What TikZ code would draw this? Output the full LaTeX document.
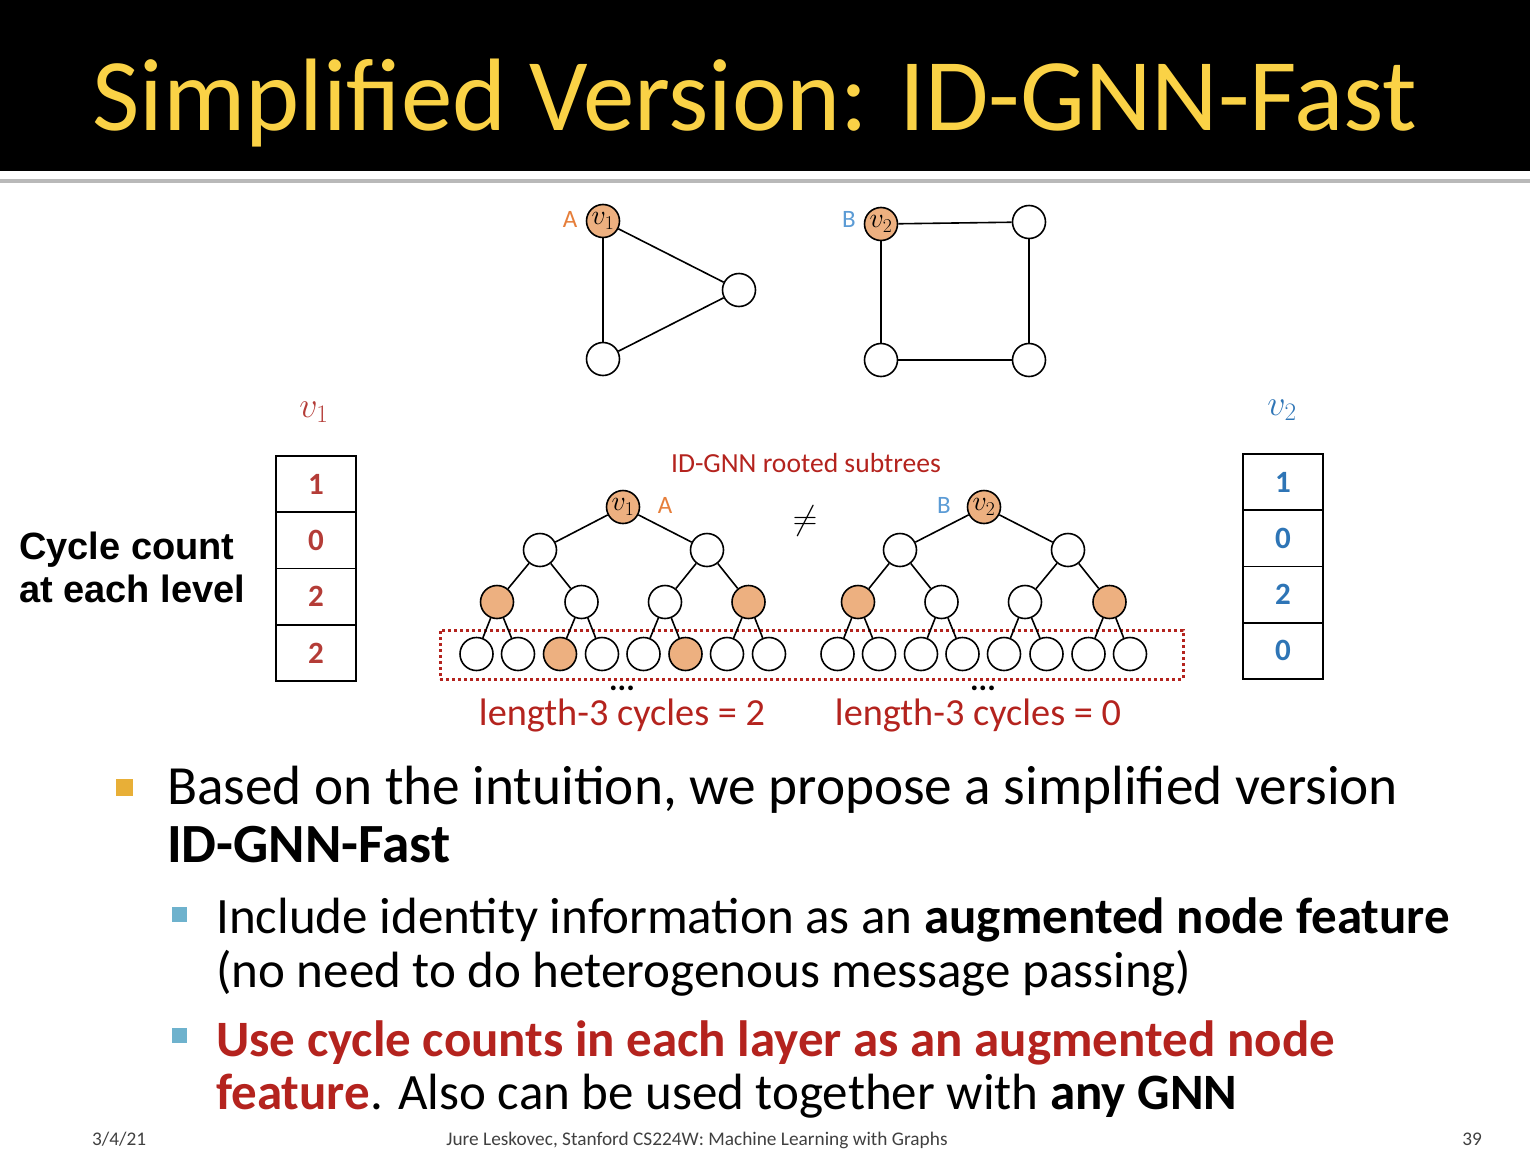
\RequirePackage{fix-cm}
\documentclass[tikz,border=0pt]{standalone}
\usepackage{fontspec}
\setmainfont{Carlito}
\newfontfamily\arialfont{Liberation Sans}
\definecolor{peach}{RGB}{237,176,128}
\definecolor{labelorange}{RGB}{230,126,58}
\definecolor{labelblue}{RGB}{91,155,213}
\definecolor{darkred}{RGB}{180,35,30}
\definecolor{tabred}{RGB}{180,60,55}
\definecolor{tabblue}{RGB}{46,117,182}
\definecolor{titleyellow}{RGB}{250,210,70}
\definecolor{bulletone}{RGB}{232,175,55}
\definecolor{bullettwo}{RGB}{110,178,205}
\begin{document}
\begin{tikzpicture}[x=1pt,y=-1pt,
  gnode/.style={circle,draw,line width=1.6pt,minimum size=33pt,inner sep=0pt,fill=white,font=\fontsize{28}{28}\selectfont},
  onode/.style={gnode,fill=peach},
  edge/.style={line width=1.6pt},
  cell/.style={draw,line width=1.6pt,minimum width=80pt,minimum height=56.25pt,inner sep=0pt,font=\fontsize{31}{32}\selectfont\bfseries},
  glabel/.style={font=\fontsize{25}{25}\selectfont},
  bigtxt/.style={anchor=base west,font=\fontsize{55.3}{60}\selectfont},
  subtxt/.style={anchor=base west,font=\fontsize{51}{56}\selectfont},
  foot/.style={anchor=base,font=\fontsize{19.3}{20}\selectfont,text=black!75},
]
\useasboundingbox (0,0) rectangle (1530,1148);
% title band
\fill[black] (0,0) rectangle (1530,171);
\fill[gray!55] (0,179) rectangle (1530,183);
\node[anchor=base west,text=titleyellow,font=\fontsize{103}{103}\selectfont,inner sep=0pt] (title) at (92,130) {Simplified Version: ID-GNN-Fast};

% graph A (triangle)
\node[onode] (ga1) at (603,221) {$v_1$};
\node[gnode] (ga2) at (739,290) {};
\node[gnode] (ga3) at (603,359) {};
\draw[edge] (ga1) -- (ga2);
\draw[edge] (ga2) -- (ga3);
\draw[edge] (ga3) -- (ga1);
\node[glabel,text=labelorange] (gla) at (570,219) {A};

% graph B (square)
\node[onode] (gb1) at (881,224) {$v_2$};
\node[gnode] (gb2) at (1029,222) {};
\node[gnode] (gb3) at (881,360) {};
\node[gnode] (gb4) at (1029,360) {};
\draw[edge] (gb1) -- (gb2);
\draw[edge] (gb2) -- (gb4);
\draw[edge] (gb4) -- (gb3);
\draw[edge] (gb3) -- (gb1);
\node[glabel,text=labelblue] (glb) at (849,219) {B};

% big labels
\node[text=tabred,font=\fontsize{36}{36}\selectfont] (lv1) at (314,412) {$v_1$};
\node[text=tabblue,font=\fontsize{36}{36}\selectfont] (lv2) at (1282,410) {$v_2$};

% tables
\node[cell,text=tabred] (ta1) at (316,484.1) {1};
\node[cell,text=tabred] (ta2) at (316,540.4) {0};
\node[cell,text=tabred] (ta3) at (316,596.6) {2};
\node[cell,text=tabred] (ta4) at (316,652.9) {2};
\node[cell,text=tabblue] (tb1) at (1283,482.1) {1};
\node[cell,text=tabblue] (tb2) at (1283,538.4) {0};
\node[cell,text=tabblue] (tb3) at (1283,594.6) {2};
\node[cell,text=tabblue] (tb4) at (1283,650.9) {0};

% cycle count label
\node[anchor=base west,font=\arialfont\bfseries\fontsize{38}{40}\selectfont,inner sep=0pt] (cc1) at (19,559) {Cycle count};
\node[anchor=base west,font=\arialfont\bfseries\fontsize{38}{40}\selectfont,inner sep=0pt] (cc2) at (19,602) {at each level};

% subtree heading
\node[anchor=base,text=darkred,font=\fontsize{27.6}{28}\selectfont,inner sep=0pt] (head) at (806,472) {ID-GNN rooted subtrees};
\node[font=\fontsize{34}{34}\selectfont] (neq) at (805,521) {$\neq$};

% dotted box
\node[draw=darkred,line width=3pt,dash pattern=on 3pt off 3pt,minimum width=743pt,minimum height=49pt,inner sep=0pt] (box) at (811.5,654.5) {};

% tree A
\node[onode] (ar) at (623,507) {$v_1$};
\node[glabel,text=labelorange] (tla) at (665,505) {A};
\node[gnode] (a11) at (540,550) {};
\node[gnode] (a12) at (707,550) {};
\node[onode] (a21) at (497,602) {};
\node[gnode] (a22) at (581.5,602) {};
\node[gnode] (a23) at (665,602) {};
\node[onode] (a24) at (748.5,602) {};
\node[gnode] (a31) at (476.5,654) {};
\node[gnode] (a32) at (518,654) {};
\node[onode] (a33) at (560,654) {};
\node[gnode] (a34) at (602,654) {};
\node[gnode] (a35) at (643.5,654) {};
\node[onode] (a36) at (685.5,654) {};
\node[gnode] (a37) at (727,654) {};
\node[gnode] (a38) at (769,654) {};
\foreach \p/\c in {ar/a11,ar/a12,a11/a21,a11/a22,a12/a23,a12/a24,a21/a31,a21/a32,a22/a33,a22/a34,a23/a35,a23/a36,a24/a37,a24/a38}
  \draw[edge] (\p) -- (\c);

% tree B
\node[onode] (br) at (984,507) {$v_2$};
\node[glabel,text=labelblue] (tlb) at (944,505) {B};
\node[gnode] (b11) at (900,550) {};
\node[gnode] (b12) at (1068,550) {};
\node[onode] (b21) at (858,602) {};
\node[gnode] (b22) at (941.5,602) {};
\node[gnode] (b23) at (1025,602) {};
\node[onode] (b24) at (1109.5,602) {};
\node[gnode] (b31) at (837.5,654) {};
\node[gnode] (b32) at (879,654) {};
\node[gnode] (b33) at (921,654) {};
\node[gnode] (b34) at (962.5,654) {};
\node[gnode] (b35) at (1004,654) {};
\node[gnode] (b36) at (1046.5,654) {};
\node[gnode] (b37) at (1088.5,654) {};
\node[gnode] (b38) at (1130,654) {};
\foreach \p/\c in {br/b11,br/b12,b11/b21,b11/b22,b12/b23,b12/b24,b21/b31,b21/b32,b22/b33,b22/b34,b23/b35,b23/b36,b24/b37,b24/b38}
  \draw[edge] (\p) -- (\c);

% ellipses and cycle labels
\node[anchor=base,font=\fontsize{32}{32}\selectfont\bfseries,inner sep=0pt] (dotsa) at (622,690) {...};
\node[anchor=base,font=\fontsize{32}{32}\selectfont\bfseries,inner sep=0pt] (dotsb) at (983,690) {...};
\node[anchor=base,text=darkred,font=\fontsize{38.3}{40}\selectfont,inner sep=0pt] (cyca) at (622,725) {length-3 cycles = 2};
\node[anchor=base,text=darkred,font=\fontsize{38.3}{40}\selectfont,inner sep=0pt] (cycb) at (978,725) {length-3 cycles = 0};

% bullets
\fill[bulletone] (115.5,779) rectangle (132.5,796);
\node[bigtxt,inner sep=0pt] (bl1) at (167,804) {Based on the intuition, we propose a simplified version};
\node[bigtxt,inner sep=0pt] (bl2) at (167,862) {\bfseries ID-GNN-Fast};
\fill[bullettwo] (172,907) rectangle (187,922);
\node[subtxt,inner sep=0pt] (sb1) at (216,933) {Include identity information as an \textbf{augmented node feature}};
\node[subtxt,inner sep=0pt] (sb2) at (216,987) {(no need to do heterogenous message passing)};
\fill[bullettwo] (172,1028) rectangle (187,1043);
\node[subtxt,inner sep=0pt] (sb3) at (216,1056) {\textcolor{darkred}{\bfseries Use cycle counts in each layer as an augmented node}};
\node[subtxt,inner sep=0pt] (sb4) at (216,1109) {\textcolor{darkred}{\bfseries feature}. Also can be used together with \textbf{any GNN}};

% footer
\node[foot,anchor=base west,inner sep=0pt] (fdate) at (92,1145) {3/4/21};
\node[foot,inner sep=0pt] (fmid) at (697,1145) {Jure Leskovec, Stanford CS224W: Machine Learning with Graphs};
\node[foot,anchor=base east,inner sep=0pt] (fpage) at (1482,1145) {39};
\end{tikzpicture}
\end{document}
